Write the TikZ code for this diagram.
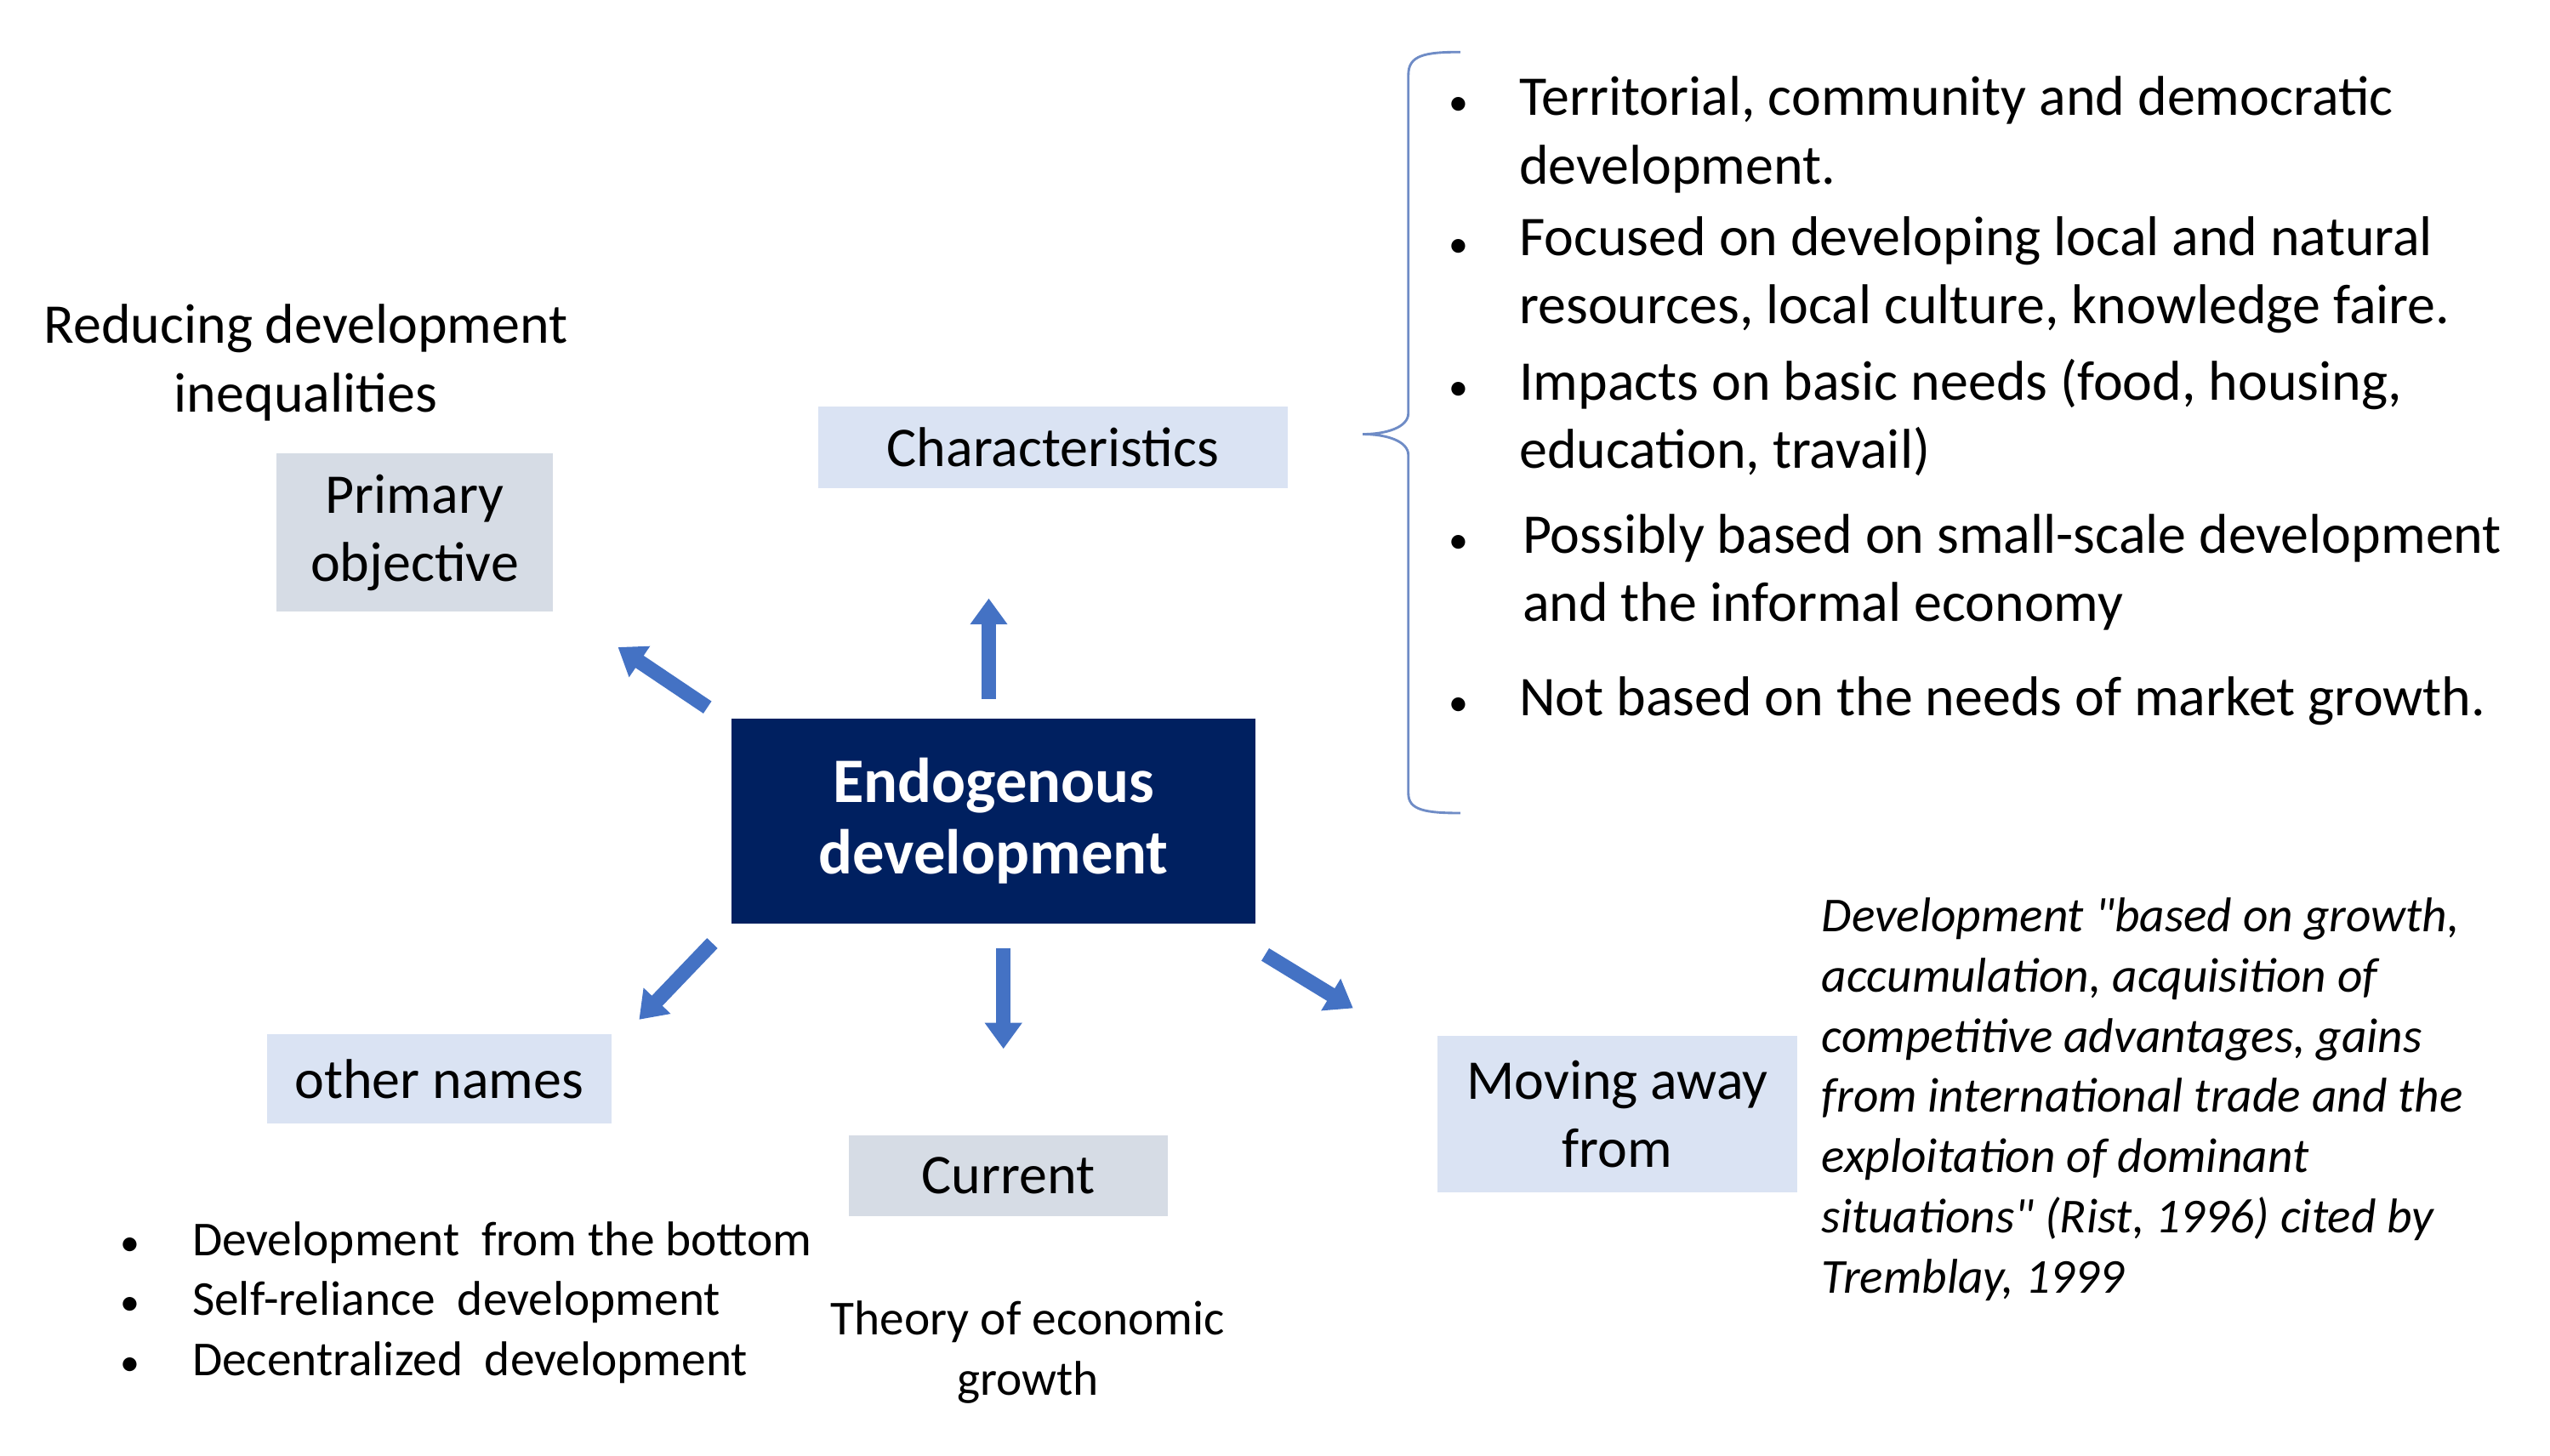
\documentclass[tikz,border=0pt]{standalone}
\usepackage{fontspec}
\setmainfont{Carlito}
\newfontfamily\quotefont{Carlito}
\usetikzlibrary{arrows.meta}

\definecolor{navybox}{HTML}{002060}
\definecolor{greybox}{HTML}{D6DCE5}
\definecolor{bluebox}{HTML}{DAE3F3}
\definecolor{arrowblue}{HTML}{4472C4}
\definecolor{bracecol}{HTML}{6F8CC6}

\begin{document}
\begin{tikzpicture}[x=1pt, y=-1pt,
    lbox/.style={fill=bluebox, inner sep=0pt, align=center, font=\fontsize{34.5}{42}\selectfont},
    gbox/.style={lbox, fill=greybox},
    mainbox/.style={fill=navybox, text=white, inner sep=0pt, align=center, font=\fontsize{39}{44}\selectfont\bfseries},
    bigtxt/.style={inner sep=0pt, align=center, font=\fontsize{34.5}{42}\selectfont},
    listtxt/.style={inner sep=0pt, align=left, anchor=base west, font=\fontsize{34.5}{42}\selectfont},
    smalltxt/.style={inner sep=0pt, align=left, anchor=base west, font=\fontsize{30}{37}\selectfont},
    bulletdot/.style={inner sep=0pt, anchor=base, font=\fontsize{24}{24}\selectfont},
    fatarrow/.style={draw=arrowblue, line width=9pt, -{Triangle[length=16pt,width=22pt]}}
]
\useasboundingbox (0,0) rectangle (1568,895);

% centre and boxes
\node[mainbox, minimum width=322pt, minimum height=126pt] (endo) at (611,505) {Endogenous\\development};
\node[gbox, minimum width=170pt, minimum height=97pt] (primary) at (255,327.5) {Primary\\objective};
\node[lbox, minimum width=289pt, minimum height=50pt] (charac) at (647.5,275) {Characteristics};
\node[lbox, minimum width=212pt, minimum height=55pt] (othernames) at (270,663.5) {other names};
\node[gbox, minimum width=196pt, minimum height=50pt] (current) at (620,723) {Current};
\node[lbox, minimum width=221pt, minimum height=96pt] (movingaway) at (994.5,685) {Moving away\\from};

% texts round the boxes
\node[bigtxt] (reducing) at (188,223) {Reducing development\\inequalities};
\node[bigtxt, font=\fontsize{30}{37}\selectfont] (theory) at (632,831.5) {Theory of economic\\growth};

% characteristics list (base = last line)
\node[listtxt] (c1) at (934,113) {Territorial, community and democratic\\development.};
\node[listtxt] (c2) at (934,199) {Focused on developing local and natural\\resources, local culture, knowledge faire.};
\node[listtxt] (c3) at (934,288) {Impacts on basic needs (food, housing,\\education, travail)};
\node[listtxt] (c4) at (936,382) {Possibly based on small-scale development\\and the informal economy};
\node[listtxt] (c5) at (934,440) {Not based on the needs of market growth.};
\foreach \y/\n in {71/1,158/2,246/3,340/4,440/5}
  \node[bulletdot] (cb\n) at (897,\y) {•};

% other names list
\node[smalltxt] (o1) at (118,772) {Development\ \ from the bottom};
\node[smalltxt] (o2) at (118,809) {Self-reliance\ \ development};
\node[smalltxt] (o3) at (118,846) {Decentralized\ \ development};
\foreach \y/\n in {772/1,809/2,846/3}
  \node[bulletdot] (ob\n) at (80,\y) {•};

% quotation
\node[smalltxt, font=\fontsize{30}{37}\quotefont\itshape] (quote) at (1120,795)
  {Development "based on growth,\\accumulation, acquisition of\\competitive advantages, gains\\from international trade and the\\exploitation of dominant\\situations" (Rist, 1996) cited by\\Tremblay, 1999};

% brace
\draw[bracecol, line width=1.5pt] (898,32) .. controls (876,32) and (866,34) .. (866,46)
  -- (866,254) .. controls (866,263) and (852,267) .. (838,267)
  .. controls (852,267) and (866,271) .. (866,280)
  -- (866,488) .. controls (866,498) and (876,500) .. (898,500);

% arrows
\coordinate (aUs) at (608,430);  \coordinate (aUe) at (608,368);
\coordinate (aULs) at (435,435); \coordinate (aULe) at (380,398);
\coordinate (aDLs) at (438,580); \coordinate (aDLe) at (393,627);
\coordinate (aDs) at (617,583);  \coordinate (aDe) at (617,645);
\coordinate (aDRs) at (778,587); \coordinate (aDRe) at (832,620);
\draw[fatarrow] (aUs) -- (aUe);
\draw[fatarrow] (aULs) -- (aULe);
\draw[fatarrow] (aDLs) -- (aDLe);
\draw[fatarrow] (aDs) -- (aDe);
\draw[fatarrow] (aDRs) -- (aDRe);

\end{tikzpicture}
\end{document}
